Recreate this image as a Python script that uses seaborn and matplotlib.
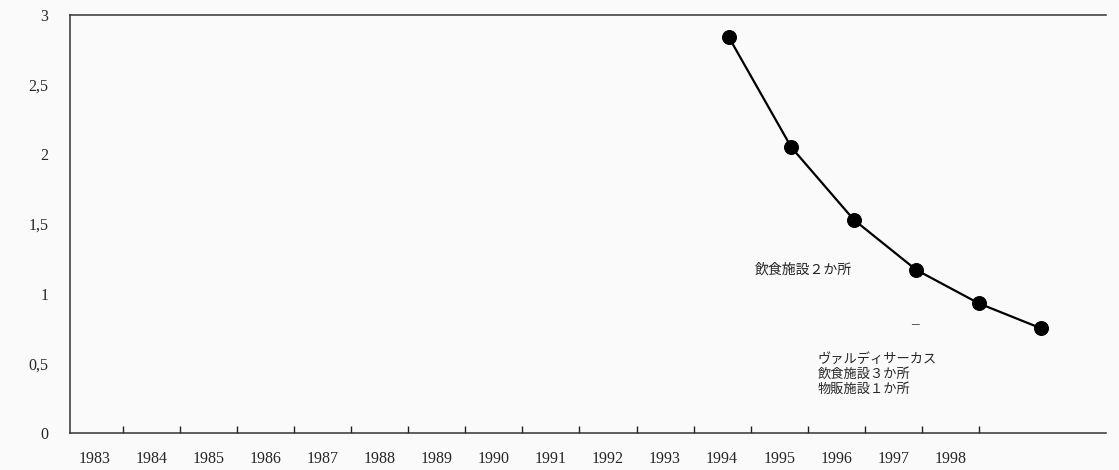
import matplotlib
matplotlib.use('Agg')
import matplotlib.pyplot as plt
import numpy as np
import pandas as pd
import seaborn as sns

# Values
label_years = [str(y) for y in range(1983, 1999)]
point_years = [1993, 1994, 1995, 1996, 1997, 1998]
point_values = [2.84, 2.05, 1.53, 1.17, 0.93, 0.75]
y_ticks = [0, 0.5, 1, 1.5, 2, 2.5, 3]
y_tick_labels = ['0', '0,5', '1', '1,5', '2', '2,5', '3']
note_upper = '飲食施設２か所'
note_lower = ['ヴァルディサーカス', '飲食施設３か所', '物販施設１か所']

sns.set_theme(style='white')
plt.rcParams['font.family'] = ['Liberation Serif', 'Noto Sans CJK JP', 'DejaVu Sans']

df = pd.DataFrame({'year': point_years, 'value': point_values})

fig = plt.figure(figsize=(11.19, 4.70), dpi=100, facecolor='#fafafa')
ax = fig.add_axes([0.063, 0.079, 0.925, 0.889])
ax.set_facecolor('#fafafa')

# Frame: year labels sit between the tick marks
ax.set_xlim(-0.42, 17.72)
ax.set_ylim(0, 3)
ax.set_xticks(np.arange(len(label_years)) + 0.5)
ax.set_xticklabels([])
ax.set_xticks(np.arange(len(label_years)), minor=True)
ax.set_xticklabels(label_years, minor=True)
ax.tick_params(axis='x', which='major', direction='in', length=5, width=1, color='#222222')
ax.tick_params(axis='x', which='minor', length=0, pad=13, labelsize=11.5)
ax.set_yticks(y_ticks)
ax.set_yticklabels(y_tick_labels)
ax.tick_params(axis='y', direction='in', length=5, width=1, pad=16, labelsize=11.5,
               color='#222222')
for side in ['left', 'bottom', 'top']:
    ax.spines[side].set_color('#333333')
    ax.spines[side].set_linewidth(1.1)
ax.spines['right'].set_visible(False)

# The curve uses its own x scale (the original points drift from the labels)
ax2 = ax.twiny()
ax2.set_xlim(1982.46, 1999.03)
sns.lineplot(data=df, x='year', y='value', ax=ax2, color='black', linewidth=1.6,
             marker='o', markersize=10, markeredgecolor='black', markerfacecolor='black')
ax2.set_ylim(0, 3)
ax2.set_xticks([])
ax2.set_xlabel('')
ax2.set_ylabel('')
ax.set_xlabel('')
ax.set_ylabel('')
for s in ax2.spines.values():
    s.set_visible(False)

jp = ['Noto Sans CJK JP', 'DejaVu Sans']
ax.text(0.661, 0.39, note_upper, transform=ax.transAxes, fontsize=10,
        family=jp, va='center', ha='left')
ax.text(0.816, 0.258, '–', transform=ax.transAxes, fontsize=11,
        family=['Liberation Serif'], va='center', ha='center')
ax.text(0.722, 0.192, '\n'.join(note_lower), transform=ax.transAxes, fontsize=9.5,
        family=jp, va='top', ha='left', linespacing=1.2)

fig.savefig('out.png', dpi=100, facecolor=fig.get_facecolor())
